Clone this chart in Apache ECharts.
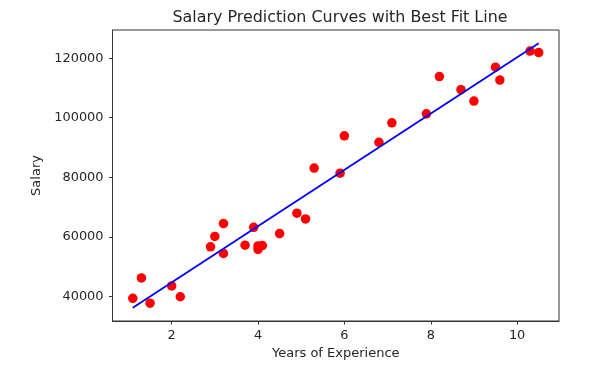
<!DOCTYPE html>
<html>
<head>
<meta charset="utf-8">
<script src="https://cdn.jsdelivr.net/npm/echarts@6/dist/echarts.min.js"></script>
<style>html,body{margin:0;padding:0;background:#fff}#c{width:606px;height:377px}</style>
</head>
<body>
<div id="c"></div>
<script>
const years = [1.1,1.3,1.5,2.0,2.2,2.9,3.0,3.2,3.2,3.7,3.9,4.0,4.0,4.1,4.5,4.9,5.1,5.3,5.9,6.0,6.8,7.1,7.9,8.2,8.7,9.0,9.5,9.6,10.3,10.5];
const salary = [39343,46205,37731,43525,39891,56642,60150,54445,64445,57189,63218,55794,56957,57081,61111,67938,66029,83088,81363,93940,91738,98273,101302,113812,109431,105582,116969,112635,122391,121872];
const fitYears = [1.1, 10.5];
const fitSalary = [36188, 125018];
const xTicks = [2,4,6,8,10];
const yTicks = [40000,60000,80000,100000,120000];

const chart = echarts.init(document.getElementById('c'), null, {renderer:'canvas'});
const font = 'DejaVu Sans';
const txt = '#262626';
chart.setOption({
  animation:false,
  title:{text:'Salary Prediction Curves with Best Fit Line', left:335, top:5, textAlign:'center',
    textStyle:{fontFamily:font, fontSize:15.9, fontWeight:'normal', color:txt}},
  grid:{left:112.5, right:47, top:30, bottom:56, show:true, borderColor:'#333', borderWidth:1, backgroundColor:'#fff'},
  xAxis:{type:'value', min:0.63, max:10.97,
    name:'Years of Experience', nameLocation:'middle', nameGap:26,
    nameTextStyle:{fontFamily:font, fontSize:13, color:txt},
    axisLine:{show:true, onZero:false, lineStyle:{color:'#333', width:1}},
    axisTick:{show:true, length:3.5, lineStyle:{color:'#333'}, customValues:xTicks},
    axisLabel:{fontFamily:font, fontSize:12.9, color:txt, margin:8, customValues:xTicks, formatter:v=>String(v)},
    splitLine:{show:false}},
  yAxis:{type:'value', min:31745, max:129459,
    name:'Salary', nameLocation:'middle', nameGap:67, nameRotate:90,
    nameTextStyle:{fontFamily:font, fontSize:13, color:txt},
    axisLine:{show:true, onZero:false, lineStyle:{color:'#333', width:1}},
    axisTick:{show:true, length:3.5, lineStyle:{color:'#333'}, customValues:yTicks},
    axisLabel:{fontFamily:font, fontSize:12.9, color:txt, margin:9, customValues:yTicks, formatter:v=>String(v)},
    splitLine:{show:false}},
  series:[
    {type:'scatter', data:years.map((x,i)=>[x,salary[i]]), symbolSize:9.5, itemStyle:{color:'#ff0000', opacity:1}, z:2},
    {type:'line', data:fitYears.map((x,i)=>[x,fitSalary[i]]), showSymbol:false, lineStyle:{color:'#0000ff', width:1.8}, z:3}
  ]
});
</script>
</body>
</html>
